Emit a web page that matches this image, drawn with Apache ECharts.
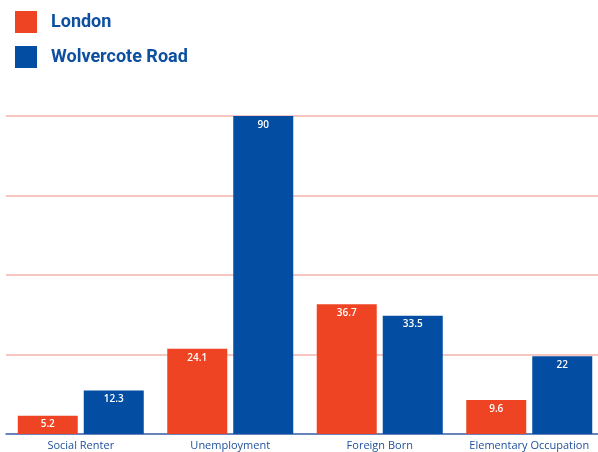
<!DOCTYPE html>
<html>
<head>
<meta charset="utf-8">
<script src="https://cdn.jsdelivr.net/npm/echarts@6/dist/echarts.min.js"></script>
<style>html,body{margin:0;padding:0;background:#fff}#c{width:598px;height:452px}</style>
</head>
<body>
<div id="c"></div>
<script>
const categories = ['Social Renter', 'Unemployment', 'Foreign Born', 'Elementary Occupation'];
const londonValues = [5.2, 24.1, 36.7, 9.6];
const wolvercoteValues = [12.3, 90, 33.5, 22];
const seriesNames = ['London', 'Wolvercote Road'];

const chart = echarts.init(document.getElementById('c'));
const labelStyle = {
  show: true, position: 'insideTop', distance: 4,
  color: '#ffffff', fontSize: 10, fontWeight: 600,
  fontFamily: 'Open Sans'
};
chart.setOption({
  animation: false,
  legend: {
    orient: 'vertical', left: 10, top: 6,
    itemWidth: 22, itemHeight: 22, itemGap: 13,
    icon: 'rect',
    textStyle: { fontSize: 18, fontWeight: 'bold', fontFamily: 'Roboto', color: '#0d4fa0', padding: [0, 0, 0, 9] },
    data: seriesNames
  },
  grid: { left: 6, right: -6, top: 116, bottom: 18, containLabel: false, outerBoundsMode: 'none' },
  xAxis: {
    type: 'category', data: categories,
    axisLine: { lineStyle: { color: '#3a6fb8', width: 1.5 } },
    axisTick: { show: false },
    axisLabel: { interval: 0, color: '#1f4f9c', fontSize: 11, fontFamily: 'Open Sans', margin: 6 }
  },
  yAxis: {
    type: 'value', min: 0, max: 90, interval: 22.5,
    axisLabel: { show: false },
    axisLine: { show: false }, axisTick: { show: false },
    splitLine: { lineStyle: { color: '#f6b3ab', width: 1.5 } }
  },
  series: [
    { name: seriesNames[0], type: 'bar', data: londonValues, barWidth: 60, barGap: '10%',
      itemStyle: { color: '#ef4423' }, label: labelStyle },
    { name: seriesNames[1], type: 'bar', data: wolvercoteValues, barWidth: 60, barGap: '10%',
      itemStyle: { color: '#034ea2' }, label: labelStyle }
  ]
});
</script>
</body>
</html>
